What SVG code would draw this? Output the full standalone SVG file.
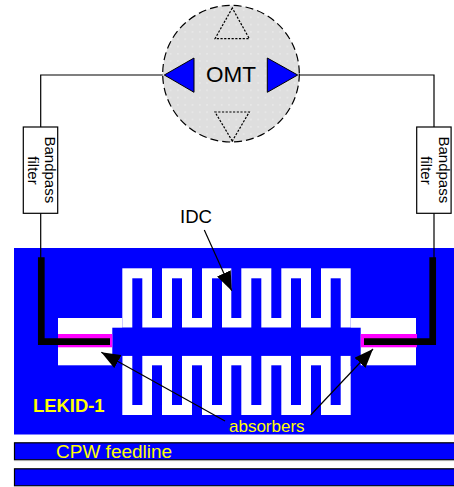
<svg xmlns="http://www.w3.org/2000/svg" width="454" height="487" viewBox="0 0 454 487">
<style>
.t{font-family:"Liberation Sans",Arial,sans-serif}
.y{fill:#ff0;stroke:none}
.b{fill:#00f;stroke:none}
.w{fill:#fff;stroke:none}
.wire{fill:none;stroke:#000;stroke-width:1.2}
.thick{fill:none;stroke:#000;stroke-width:6.7;stroke-linejoin:miter}
.dot{fill:none;stroke:#000;stroke-width:1.2;stroke-dasharray:2.2 1.5}
.tri{fill:#00f;stroke:#000;stroke-width:1}
.feed{fill:#00f;stroke:#000;stroke-width:1.2}
.arrow{stroke:#000;stroke-width:1.2;fill:none;marker-end:url(#ah)}
</style>
<defs>
<marker id="ah" markerUnits="userSpaceOnUse" markerWidth="20" markerHeight="15" refX="19" refY="7.5" orient="auto"><path d="M0 0L19 7.5L0 15Z" fill="#000"/></marker>
<pattern id="dots" patternUnits="userSpaceOnUse" width="7.3" height="7.3"><rect width="7.3" height="7.3" fill="#dedede"/><rect x="2" y="2" width="1.4" height="1.4" fill="#ececec"/></pattern>
</defs>
<g id="lekid">
<rect class="b" x="14" y="248" width="440" height="186.5"/>
<g id="structure">
<rect class="w" x="122.3" y="268.3" width="228.4" height="59.4"/>
<rect class="w" x="122.3" y="355.7" width="228.4" height="59.3"/>
<rect class="w" x="58" y="318" width="64.3" height="47.3"/>
<rect class="w" x="350.7" y="318" width="65.3" height="47.3"/>
<rect class="b" x="112.3" y="327.7" width="248.4" height="28"/>
<rect class="b" x="112.3" y="355" width="10" height="11"/>
<rect class="b" x="350.7" y="355" width="10" height="11"/>
<g id="fingers-up">
<rect class="b" x="132.3" y="278.3" width="10" height="50"/><rect class="b" x="172" y="278.3" width="10" height="50"/><rect class="b" x="212" y="278.3" width="10" height="50"/><rect class="b" x="251.3" y="278.3" width="10" height="50"/><rect class="b" x="291" y="278.3" width="10" height="50"/><rect class="b" x="330.7" y="278.3" width="10" height="50"/>
</g>
<g id="fingers-down-top">
<rect class="b" x="152" y="268" width="10" height="50"/><rect class="b" x="192" y="268" width="10" height="50"/><rect class="b" x="231.3" y="268" width="10" height="50"/><rect class="b" x="271.3" y="268" width="10" height="50"/><rect class="b" x="311" y="268" width="10" height="50"/>
</g>
<g id="fingers-down">
<rect class="b" x="132.3" y="355" width="10" height="50"/><rect class="b" x="172" y="355" width="10" height="50"/><rect class="b" x="212" y="355" width="10" height="50"/><rect class="b" x="251.3" y="355" width="10" height="50"/><rect class="b" x="291" y="355" width="10" height="50"/><rect class="b" x="330.7" y="355" width="10" height="50"/>
</g>
<g id="fingers-up-bottom">
<rect class="b" x="152" y="365.3" width="10" height="50"/><rect class="b" x="192" y="365.3" width="10" height="50"/><rect class="b" x="231.3" y="365.3" width="10" height="50"/><rect class="b" x="271.3" y="365.3" width="10" height="50"/><rect class="b" x="311" y="365.3" width="10" height="50"/>
</g>
</g>
<rect x="58" y="334" width="54.3" height="13.3" fill="#f0f"/>
<rect x="360.7" y="334" width="56.3" height="13.3" fill="#f0f"/>
<text class="t y" x="33" y="412.3" font-size="18.4" font-weight="bold">LEKID-1</text>
<text class="t y" x="229" y="431.5" font-size="17">absorbers</text>
</g>
<g id="feedline-1">
<rect class="feed" x="14.5" y="442.8" width="441" height="17"/>
<path d="M14 460.6H454" stroke="#aaa" stroke-width="1"/>
<text class="t y" x="56" y="458" font-size="19">CPW feedline</text>
</g>
<g id="feedline-2">
<rect class="feed" x="14.5" y="468.8" width="441" height="17"/>
<path d="M14 486.5H454" stroke="#aaa" stroke-width="1"/>
</g>
<g id="connectors">
<path class="wire" d="M163 75H40.7V127M40.7 213V258"/>
<path class="wire" d="M298 75H434V127M434 213V258"/>
<path class="thick" d="M41.3 257.3V341.7H110"/>
<path class="thick" d="M432.7 257.3V341.7H364"/>
<path class="arrow" d="M204.3 230L231.7 290.7"/>
<path class="arrow" d="M225 421L101.3 352.3"/>
<path class="arrow" d="M310.7 415L373 349"/>
</g>
<g id="omt">
<circle cx="231" cy="73.7" r="68.3" fill="url(#dots)" stroke="#000" stroke-width="1.2" stroke-dasharray="8 4"/>
<path class="tri" d="M164.3 75L194 58V92.3Z"/>
<path class="tri" d="M297.7 75L267.3 58V92.3Z"/>
<path class="dot" d="M232.3 8L215 38.7H249.3Z"/>
<path class="dot" d="M232.3 141L215 112H249.3Z"/>
<text class="t" x="206" y="81.7" font-size="22.5" fill="#000">OMT</text>
</g>
<g id="filter-left">
<rect x="23.3" y="127" width="34.4" height="86.3" fill="#fff" stroke="#000" stroke-width="1.2"/>
<text class="t" transform="translate(45,136.5) rotate(90)" font-size="15" fill="#000">Bandpass</text>
<text class="t" transform="translate(27.5,170.5) rotate(90)" font-size="15" fill="#000" text-anchor="middle">filter</text>
</g>
<g id="filter-right">
<rect x="416.7" y="127" width="34.4" height="86.3" fill="#fff" stroke="#000" stroke-width="1.2"/>
<text class="t" transform="translate(438.7,136.5) rotate(90)" font-size="15" fill="#000">Bandpass</text>
<text class="t" transform="translate(421,170.5) rotate(90)" font-size="15" fill="#000" text-anchor="middle">filter</text>
</g>
<text id="idc" class="t" x="180" y="222.7" font-size="18.6" fill="#000">IDC</text>
</svg>
